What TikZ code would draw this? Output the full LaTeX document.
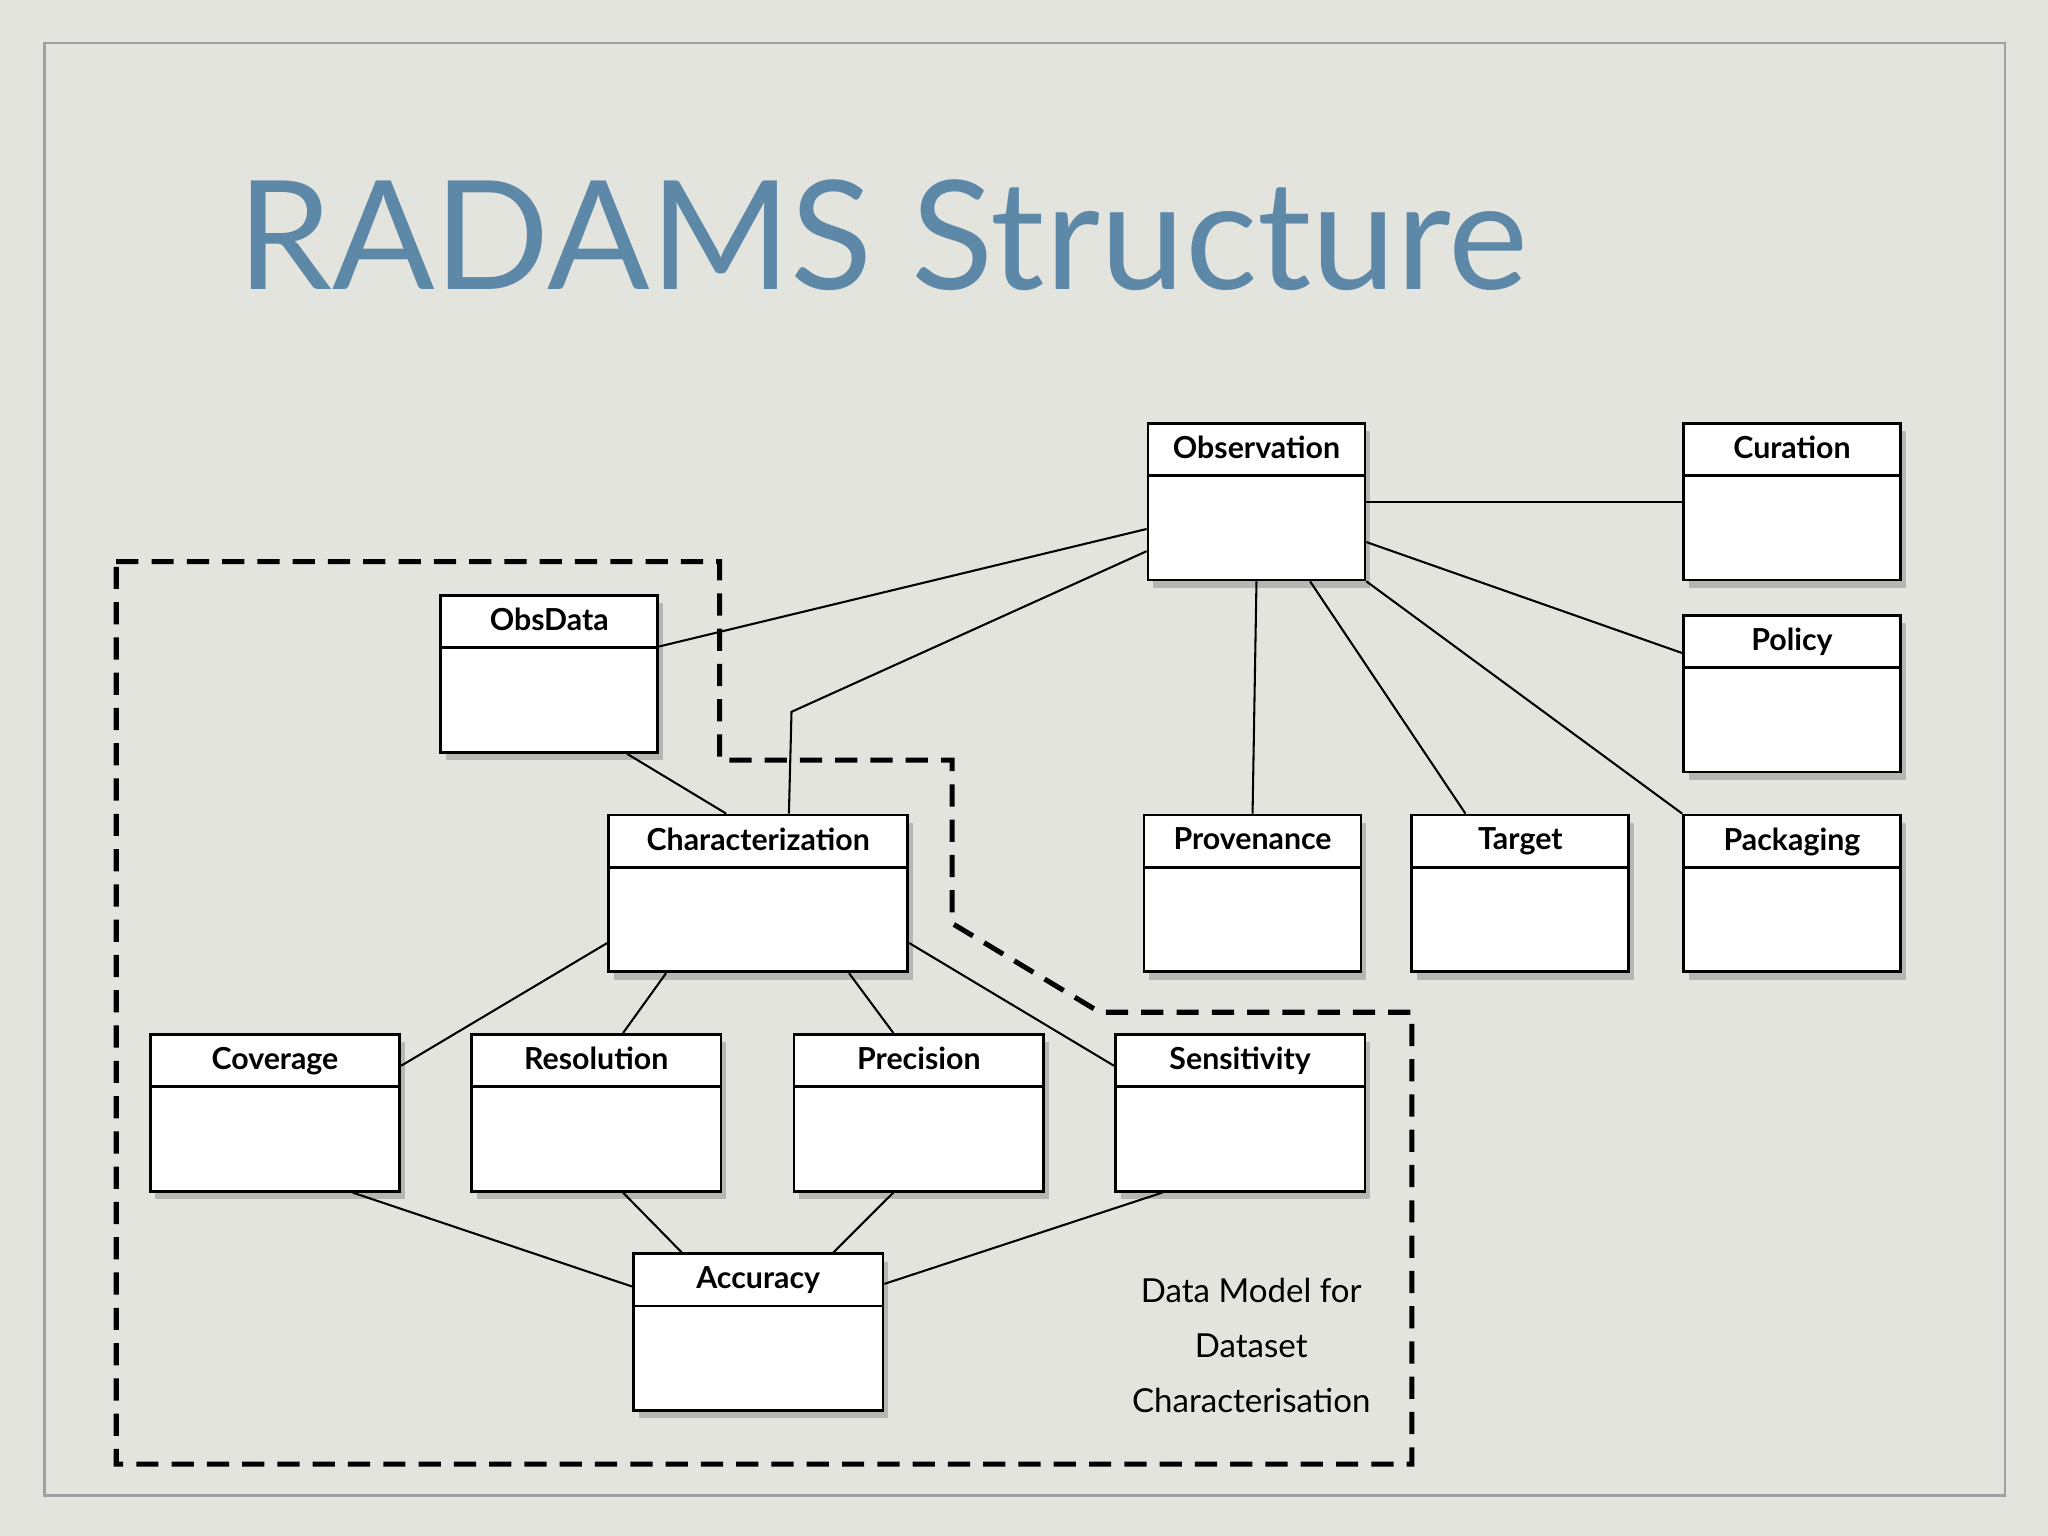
\documentclass[tikz,border=0pt]{standalone}
\usepackage{fontspec}
\setmainfont{Lato}
\usetikzlibrary{shadows,calc}
\definecolor{bg}{HTML}{E4E4DE}
\definecolor{titlec}{HTML}{5E88A8}
\definecolor{framec}{HTML}{A0A0A4}
\tikzset{
  box/.style={draw=black,line width=0.6pt,fill=white,minimum height=1.2cm,inner sep=0pt,
    drop shadow={shadow xshift=0.04cm,shadow yshift=-0.06cm,opacity=0.45},
    path picture={\draw[line width=0.6pt] ([yshift=-0.4cm]path picture bounding box.north west) -- ([yshift=-0.4cm]path picture bounding box.north east);},
    label={[anchor=north,yshift=0.015cm,font=\fontsize{6.6}{7}\selectfont\bfseries]north:#1}},
  w1/.style={minimum width=1.66cm},
  w2/.style={minimum width=1.91cm},
  conn/.style={line width=0.45pt},
}
\begin{document}
\begin{tikzpicture}[x=0.01cm,y=-0.01cm]
\fill[bg] (0,0) rectangle (1568,1176);
\useasboundingbox (0,0) rectangle (1568,1176);
\draw[framec,line width=0.6pt] (34,33) rectangle (1535,1145);
\node[anchor=base west,inner sep=0pt,text=titlec,font=\fontsize{33}{36}\selectfont] (title) at (181,222) {RADAMS Structure};

\node[box=Observation,w1] (obs) at (962,384) {};
\node[box=Curation,w1] (cur) at (1372,384) {};
\node[box=Policy,w1] (pol) at (1372,531) {};
\node[box=ObsData,w1] (obsd) at (420.5,516) {};
\node[box=Characterization,minimum width=2.29cm] (char) at (580.5,684) {};
\node[box=Provenance,w1] (prov) at (959,684) {};
\node[box=Target,w1] (tgt) at (1164,684) {};
\node[box=Packaging,w1] (pack) at (1372,684) {};
\node[box=Coverage,w2] (cov) at (210.5,852) {};
\node[box=Resolution,w2] (res) at (456.5,852) {};
\node[box=Precision,w2] (prec) at (703.5,852) {};
\node[box=Sensitivity,w2] (sens) at (949.5,852) {};
\node[box=Accuracy,w2] (acc) at (580.5,1020) {};

\draw[line width=1.1pt,dash pattern=on 0.17cm off 0.1cm] (89,430) -- (551,430) -- (551,582) -- (729,582) -- (729,707) -- (842,775) -- (1081,775) -- (1081,1121) -- (89,1121) -- cycle;
\node[align=center,font=\fontsize{7.2}{12}\selectfont] (dm) at (958,1030) {Data Model for\\Dataset\\Characterisation};

\coordinate (bend) at (606,545);
\draw[conn] ([yshift=-0.21cm]obs.west) -- ([yshift=0.21cm]obsd.east);
\draw[conn] ([yshift=-0.38cm]obs.west) -- (bend) -- ([xshift=0.235cm]char.north);
\draw[conn] (obs.east) -- (cur.west);
\draw[conn] ([yshift=-0.31cm]obs.east) -- ([yshift=0.31cm]pol.west);
\draw[conn] (obs.south) -- (prov.north);
\draw[conn] ([xshift=0.41cm]obs.south) -- ([xshift=-0.42cm]tgt.north);
\draw[conn] (obs.south east) -- (pack.north west);
\draw[conn] ([xshift=0.595cm]obsd.south) -- ([xshift=-0.245cm]char.north);
\draw[conn] ([yshift=-0.38cm]char.west) -- ([yshift=0.36cm]cov.east);
\draw[conn] ([xshift=-0.705cm]char.south) -- ([xshift=0.205cm]res.north);
\draw[conn] ([xshift=0.695cm]char.south) -- ([xshift=-0.195cm]prec.north);
\draw[conn] ([yshift=-0.38cm]char.east) -- ([yshift=0.36cm]sens.west);
\draw[conn] ([xshift=0.595cm]cov.south) -- ([yshift=0.35cm]acc.west);
\draw[conn] ([xshift=0.205cm]res.south) -- ([xshift=-0.585cm]acc.north);
\draw[conn] ([xshift=-0.195cm]prec.south) -- ([xshift=0.575cm]acc.north);
\draw[conn] ([xshift=-0.595cm]sens.south) -- ([yshift=0.37cm]acc.east);
\end{tikzpicture}
\end{document}
